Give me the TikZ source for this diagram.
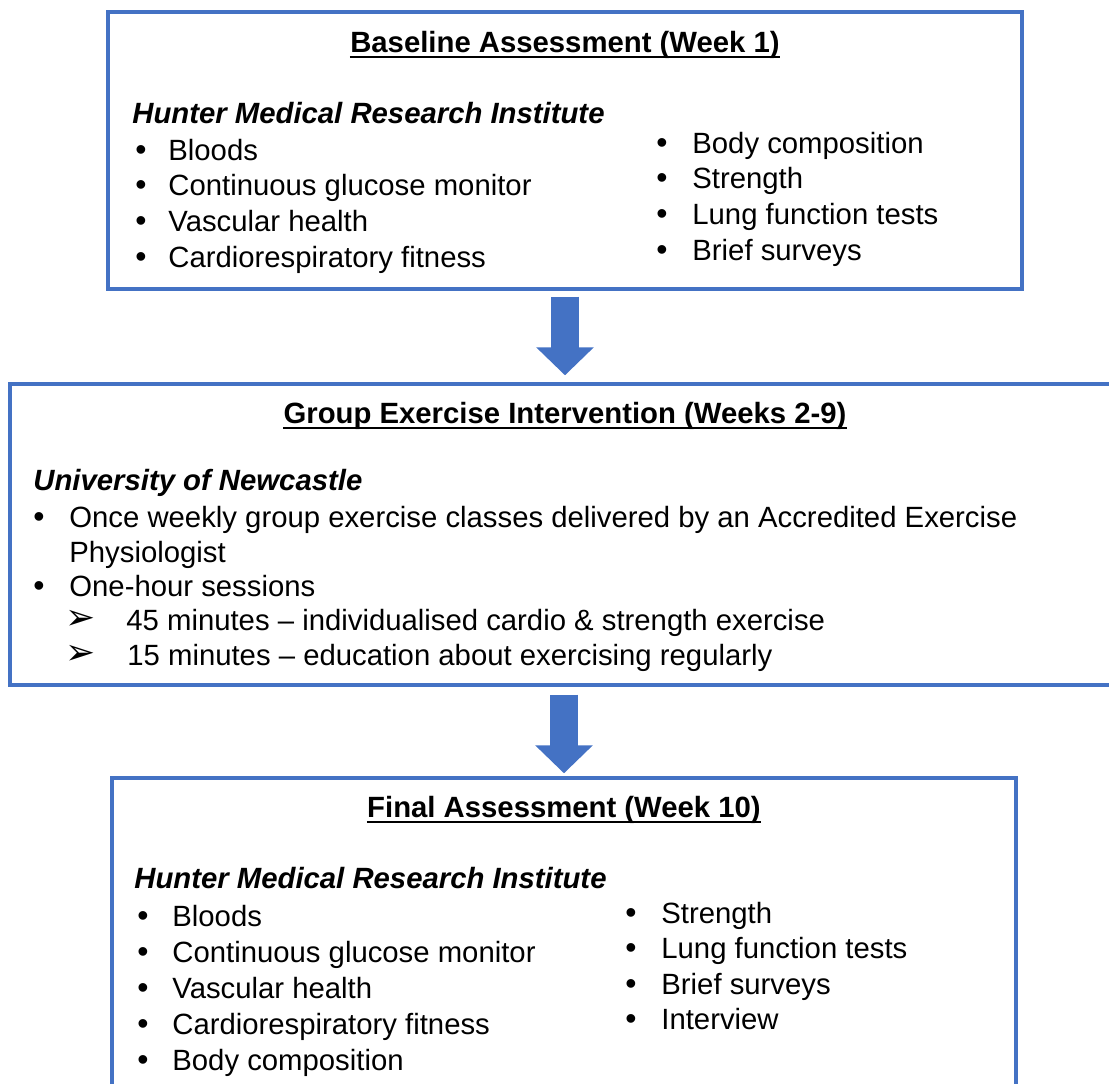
\documentclass[tikz,border=0pt]{standalone}
\usepackage{fontspec}
\setmainfont{Liberation Sans}
\newfontfamily\dingfont{DejaVu Sans}
\usetikzlibrary{arrows.meta}
\definecolor{boxblue}{HTML}{4472C4}

\tikzset{
	panel/.style={draw=boxblue, line width=1.7pt, inner sep=0pt},
	txt/.style={anchor=base west, inner sep=0pt, font=\fontsize{14.65}{17.6}\selectfont},
	head/.style={anchor=base, inner sep=0pt, font=\fontsize{14.65}{17.6}\selectfont\bfseries},
	site/.style={txt, font=\fontsize{14.65}{17.6}\selectfont\bfseries\itshape},
	dot/.style={anchor=base, inner sep=0pt, font=\fontsize{16}{17.6}\selectfont},
	tick/.style={anchor=base, inner sep=0pt, font=\fontsize{18}{20}\dingfont},
	uline/.style={line width=1pt},
	flow/.style={color=boxblue, line width=14pt, -{Triangle[width=28pt,length=14pt]}},
}

\begin{document}
\begin{tikzpicture}[x=0.5pt, y=-0.5pt]
	\useasboundingbox (0,0) rectangle (1109,1083);

	% the three stages
	\node[panel, minimum width=457pt, minimum height=138.5pt] (base) at (565,150.5) {};
	\node[panel, minimum width=557.5pt, minimum height=150.5pt] (group) at (567.5,534.5) {};
	\node[panel, minimum width=452pt, minimum height=161pt] (final) at (564,939) {};

	\draw[flow, shorten <=3pt, shorten >=3.5pt] (base.south) -- (base.south |- group.north);
	\draw[flow, shorten <=4pt, shorten >=1.5pt] (group.south -| final.north) -- (final.north);

	% week 1
	\node[head] (base-title) at (565,52) {Baseline Assessment (Week 1)};
	\draw[uline] ([yshift=-2.6pt]base-title.base west) -- ([yshift=-2.6pt]base-title.base east);
	\node[site] (base-site) at (132,123) {Hunter Medical Research Institute};

	\node[dot] (base-d1) at (141,160) {•};
	\node[dot] (base-d2) at (141,195) {•};
	\node[dot] (base-d3) at (141,231) {•};
	\node[dot] (base-d4) at (141,267) {•};
	\node[txt] (base-l1) at (168,160) {Bloods};
	\node[txt] (base-l2) at (168,195) {Continuous glucose monitor};
	\node[txt] (base-l3) at (168,231) {Vascular health};
	\node[txt] (base-l4) at (168,267) {Cardiorespiratory fitness};

	\node[dot] (base-e1) at (662,153) {•};
	\node[dot] (base-e2) at (662,188) {•};
	\node[dot] (base-e3) at (662,224) {•};
	\node[dot] (base-e4) at (662,260) {•};
	\node[txt] (base-r1) at (692,153) {Body composition};
	\node[txt] (base-r2) at (692,188) {Strength};
	\node[txt] (base-r3) at (692,224) {Lung function tests};
	\node[txt] (base-r4) at (692,260) {Brief surveys};

	% weeks 2-9
	\node[head] (group-title) at (565,423) {Group Exercise Intervention (Weeks 2-9)};
	\draw[uline] ([yshift=-2.6pt]group-title.base west) -- ([yshift=-2.6pt]group-title.base east);
	\node[site] (group-site) at (33,490) {University of Newcastle};

	\node[dot] (group-d1) at (39,527) {•};
	\node[dot] (group-d2) at (39,596) {•};
	\node[txt] (group-l1) at (69,527) {Once weekly group exercise classes delivered by an Accredited Exercise};
	\node[txt] (group-l2) at (69,562) {Physiologist};
	\node[txt] (group-l3) at (69,596) {One-hour sessions};
	\node[tick] (group-t1) at (81,629) {➢};
	\node[tick] (group-t2) at (81,664) {➢};
	\node[txt] (group-s1) at (126,630) {45 minutes – individualised cardio \& strength exercise};
	\node[txt] (group-s2) at (127,665) {15 minutes – education about exercising regularly};

	% week 10
	\node[head] (final-title) at (564,817) {Final Assessment (Week 10)};
	\draw[uline] ([yshift=-2.6pt]final-title.base west) -- ([yshift=-2.6pt]final-title.base east);
	\node[site] (final-site) at (134,888) {Hunter Medical Research Institute};

	\node[dot] (final-d1) at (143,926) {•};
	\node[dot] (final-d2) at (143,962) {•};
	\node[dot] (final-d3) at (143,998) {•};
	\node[dot] (final-d4) at (143,1034) {•};
	\node[dot] (final-d5) at (143,1070) {•};
	\node[txt] (final-l1) at (172,926) {Bloods};
	\node[txt] (final-l2) at (172,962) {Continuous glucose monitor};
	\node[txt] (final-l3) at (172,998) {Vascular health};
	\node[txt] (final-l4) at (172,1034) {Cardiorespiratory fitness};
	\node[txt] (final-l5) at (172,1070) {Body composition};

	\node[dot] (final-e1) at (631,923) {•};
	\node[dot] (final-e2) at (631,958) {•};
	\node[dot] (final-e3) at (631,994) {•};
	\node[dot] (final-e4) at (631,1029) {•};
	\node[txt] (final-r1) at (661,923) {Strength};
	\node[txt] (final-r2) at (661,958) {Lung function tests};
	\node[txt] (final-r3) at (661,994) {Brief surveys};
	\node[txt] (final-r4) at (661,1029) {Interview};

\end{tikzpicture}
\end{document}
